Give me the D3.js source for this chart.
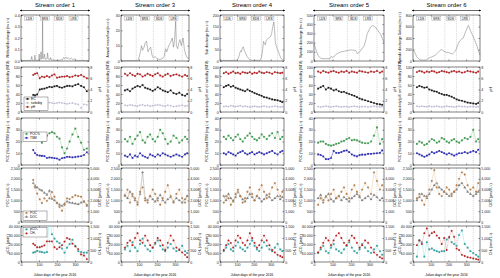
<!DOCTYPE html>
<html>
<head>
<meta charset="utf-8">
<script src="https://cdn.jsdelivr.net/npm/d3@7"></script>
<style>
  body { margin: 0; background: #fff; }
  text { font-family: "Liberation Sans", Arial, sans-serif; }
</style>
</head>
<body>
<svg id="fig" width="500" height="278"></svg>
<script>
// ---- data ----
const titles = ["Stream order 1", "Stream order 3", "Stream order 4", "Stream order 5", "Stream order 6"];
const seasons = ["LDS", "SRS", "SDS", "LRS"];
const seasonBreaks = [85, 180, 245, 340];
const seasonMid = [45, 132, 212, 292];
const dayTicks = [0, 100, 200, 300];

const qLabels = ["Wetland discharge (m³ s⁻¹)", "Annual mean flow (m³ s⁻¹)", "Sub discharge (m³ s⁻¹)",
                 "Nyando discharge (m³ s⁻¹)", "Nyando discharge Galana (m³ s⁻¹)"];
const qMax = [0.4, 30, 200, 500, 800];
const qTicks = [[0, 0.1, 0.2, 0.3, 0.4], [0, 10, 20, 30], [0, 50, 100, 150, 200],
                [0, 100, 200, 300, 400, 500], [0, 200, 400, 600, 800]];

// discharge series, [day, value]
const q1 = [[0,0.005],[55,0.005],[60,0.04],[63,0.005],[75,0.006],[77,0.05],[80,0.005],[98,0.006],[101,0.06],[104,0.01],
  [109,0.02],[111,0.08],[114,0.015],[118,0.02],[120,0.38],[122,0.03],[126,0.02],[131,0.06],[134,0.015],[145,0.02],
  [148,0.07],[151,0.02],[160,0.01],[164,0.03],[168,0.01],[200,0.005],[230,0.01],[236,0.03],[242,0.02],[248,0.035],
  [255,0.02],[262,0.03],[270,0.015],[280,0.025],[290,0.01],[300,0.02],[310,0.005],[378,0.005]];
const q2 = [[0,0.2],[95,0.3],[100,2],[108,6],[114,10],[120,7],[128,9],[135,12],[142,13],[150,6],[158,8],[165,9],
  [172,4],[180,2],[190,3],[200,1.5],[215,1],[230,1.5],[240,3],[248,8],[255,6],[265,10],[275,12],[285,15],[292,9],
  [298,14],[304,26],[308,10],[315,8],[322,12],[328,14],[335,10],[345,15],[352,8],[360,4],[370,2],[378,1.5]];
const q3 = [[0,3],[60,2],[96,3],[105,8],[112,20],[117,35],[122,45],[127,40],[132,55],[137,62],[142,50],[150,35],
  [160,20],[170,10],[177,5],[190,3],[237,3],[245,15],[252,50],[257,85],[263,75],[268,70],[273,90],[280,95],[288,100],
  [297,105],[305,120],[312,150],[318,170],[322,140],[327,80],[335,60],[345,40],[358,15],[368,5],[378,3]];
const q4 = [[0,190],[8,140],[14,100],[22,60],[36,30],[50,25],[80,25],[88,30],[93,50],[100,40],[108,45],[117,70],
  [126,80],[140,95],[150,100],[162,105],[171,110],[185,115],[198,120],[212,118],[225,115],[234,80],[245,95],[258,130],
  [270,160],[280,230],[288,300],[298,340],[306,370],[315,385],[322,380],[333,365],[345,330],[360,290],[370,240],[378,200]];
const q5 = [[0,200],[10,150],[20,80],[28,50],[38,25],[47,18],[60,15],[76,20],[88,45],[95,60],[105,70],[113,80],
  [125,100],[132,120],[142,150],[151,180],[161,200],[170,180],[180,160],[190,150],[198,150],[210,135],[222,120],
  [232,150],[240,180],[248,240],[255,300],[264,350],[274,380],[283,400],[292,470],[302,550],[312,620],[318,580],
  [325,520],[331,480],[340,420],[350,350],[362,250],[370,170],[378,100]];
const discharge = [q1, q2, q3, q4, q5];

// sampling days
const days1 = [68,78,90,104,116,130,144,158,172,186,200,214,228,242,256,270,286,302,318,334,350,366];
const daysN = [22,36,50,64,78,92,106,120,134,148,162,176,190,204,218,232,246,260,276,292,308,324,340,356,368];

// row 2: conductivity / turbidity (left), pH (right)
const cond = [
  [38,37,39,50,51,52,54,56,55,57,58,55,54,56,58,58,57,60,62,58,55,46],
  [48,50,46,52,55,58,56,60,54,52,50,47,50,55,52,48,46,44,48,42,40,43,38,36,40],
  [55,58,60,56,58,54,52,50,48,46,50,47,45,42,40,38,36,33,32,30,28,27,26,24,22],
  [52,55,58,50,54,52,48,50,46,44,45,42,40,38,36,33,30,28,26,24,22,20,18,17,16],
  [55,58,56,54,55,50,48,46,45,42,40,38,38,36,34,31,28,26,25,23,21,20,19,18,20]];
const ph = [
  [6.6,6.8,6.9,6.0,6.3,6.2,6.4,6.2,6.5,6.7,6.1,6.2,6.3,6.3,6.4,6.2,6.3,6.5,6.4,6.6,6.3,6.0],
  [6.8,6.5,6.9,6.6,6.4,6.8,6.7,6.3,6.5,6.8,6.6,6.4,6.7,6.9,6.5,6.3,6.6,6.8,6.4,6.6,6.7,6.5,6.3,6.6,6.4],
  [6.9,7.1,6.8,7.0,7.2,6.9,7.0,6.8,7.1,7.0,6.9,7.1,6.8,7.0,6.9,7.2,7.0,6.9,7.1,7.0,6.8,7.1,7.0,6.9,7.0],
  [7.2,7.0,7.3,7.1,7.0,7.2,7.3,7.1,7.0,7.2,7.1,7.3,7.0,7.2,7.1,7.0,7.3,7.2,7.1,7.0,7.2,7.1,7.3,7.0,7.2],
  [7.1,7.3,7.2,7.0,7.2,7.1,7.3,7.2,7.0,7.1,7.3,7.2,7.1,7.0,7.2,7.3,7.1,7.2,7.0,7.1,7.3,7.2,7.1,7.0,7.2]];
const turb = [
  [null,null,null,null,null,null,20,21,20,19,20,21,20,19,18,19,20,18,17,9,17,16],
  [15,14,16,15,14,13,15,16,14,15,13,14,15,16,15,14,13,15,14,12,13,14,15,13,14],
  [12,13,12,14,13,12,13,14,12,13,12,11,12,13,12,11,12,13,12,11,12,13,12,11,12],
  [12,11,12,13,12,11,12,13,12,11,12,12,11,12,13,12,11,12,12,11,12,13,12,11,12],
  [13,12,13,12,12,13,12,12,13,12,11,12,13,12,12,11,12,13,12,12,11,12,12,11,12]];

// row 3: POC (%) and TSM
const pocPct = [
  [23.5,24,24.5,25.5,19,21,25,27,28,27,24,22.5,15,10,14,20,26,31,24,19,13,14],
  [22,20,24,18,22,25,28,21,19,24,26,22,20,24,30,27,22,18,20,25,23,19,21,24,22],
  [24,22,25,23,21,24,26,22,20,23,25,27,24,22,21,23,26,24,22,25,27,23,28,22,24],
  [19,20,20,18,17,16.5,17,18,18.5,20,20.5,22,23,21,21.5,21,20,19,18.5,18.5,20,25,32,18,22],
  [18,20,19,17,18,20,22,21,19,20,23,22,20,19,21,22,20,19,21,23,22,24,30,20,22]];
const tsm = [
  [12.8,10,8.5,8,7.8,7.6,6,6.4,6.2,5.8,5.5,4.5,5.8,6.2,7,6.8,6.5,6.8,7.2,7.5,8.5,10.8],
  [8,7,9,6,8,7,10,8,7,6,9,8,7,9,8,10,9,8,7,8,9,8,7,9,10],
  [10,9,11,10,9,8,10,11,12,10,9,10,11,9,10,11,10,9,10,11,12,10,9,11,12],
  [9,8.5,7.3,5,5,6,12,10.3,10.3,11,12,12.4,11,9,8,7.3,8.5,8.8,8.8,9.5,9.5,9.8,10,10.3,12.4],
  [10,9,8,7,8,9,11,10,11,12,11,10,9,10,9,8,9,10,10,11,10,11,12,11,13]];

// row 4: POC (umol/L, left) and DOC (umol/L, right)
const poc = [
  [1950,1600,1316,1050,880,1096,980,1100,1390,1170,877,700,520,800,1096,1060,1150,1240,1200,1170,950,800],
  [1200,1500,900,1300,1100,800,1400,1600,1000,900,1200,1500,1300,1000,800,1100,1400,1700,1200,900,1300,1500,1100,900,1200],
  [900,1200,1100,800,1000,1300,1500,1200,900,1100,1400,1600,1300,1000,1200,1500,1700,1400,1100,1300,1600,1800,1500,1200,1400],
  [800,1100,900,1200,1000,1300,1500,1100,1200,1400,1600,1300,1100,1500,1700,1400,1200,1500,1800,1600,1300,2300,1900,1500,1700],
  [1100,1300,1000,800,1200,1500,1900,2400,1600,1300,1200,1400,1600,1500,1200,1400,1700,2000,2300,2200,1700,1500,1600,1400,1800]];
const doc = [
  [3600,3360,3200,3000,2920,2700,2530,2900,2150,2000,1760,1600,1500,1700,1900,1800,1760,1700,1640,1800,1900,1500],
  [2500,2200,2800,2400,2000,1800,2600,4600,2200,2000,2400,2100,1900,2200,2500,2000,1800,2100,2300,1900,2200,2000,1800,2100,2400],
  [2400,2000,2600,2200,1900,2300,2800,2400,2100,1900,2200,2600,2300,2000,2400,2200,1900,2100,2500,2300,2000,2200,2400,2100,2300],
  [2200,2500,2000,2300,2600,2100,1900,2200,2400,2000,2300,2100,1900,2200,2400,2600,2300,2000,2200,2400,2100,2500,2300,2000,2200],
  [2000,2300,2600,2400,2200,2600,3000,3400,3600,3200,3000,2800,2600,2400,2600,2800,3000,3400,3600,3200,2800,2600,2400,2600,2800]];

// row 5: pCO2 (uatm, left) and CH4 (nmol/L, right)
const pco2 = [
  [10400,11000,12400,11500,11000,10400,11000,52000,30800,26000,22800,21000,15000,10400,16000,20000,24800,18000,12000,11000,10400,10400],
  [14000,18000,12000,22000,16000,12000,20000,26000,18000,14000,12000,16000,20000,24000,18000,14000,12000,16000,20000,15000,12000,14000,18000,12000,10000],
  [12000,16000,20000,14000,12000,18000,22000,16000,14000,12000,16000,20000,24000,18000,14000,12000,16000,22000,18000,14000,12000,16000,20000,14000,12000],
  [10000,14000,18000,12000,10000,16000,20000,14000,12000,10000,14000,18000,22000,16000,12000,10000,14000,20000,16000,12000,10000,14000,18000,12000,8000],
  [6000,24000,22000,6000,22000,14000,15000,13000,12000,11000,12000,12000,25000,27000,22000,20000,18000,30000,35000,20000,16000,12000,10000,8000,6000]];
const ch4 = [
  [765,700,615,615,650,690,860,860,860,615,540,615,700,850,1000,950,765,650,540,315,270,120],
  [600,800,900,700,1000,1200,900,800,1100,900,700,600,800,1000,900,700,500,800,1100,900,600,500,400,300,200],
  [500,700,900,800,600,900,1100,1000,800,700,900,1200,1000,800,600,700,900,1100,900,700,500,400,300,250,200],
  [400,600,800,1000,900,700,900,1100,1200,1000,800,700,900,1100,1000,800,600,700,900,800,600,400,300,200,150],
  [700,900,750,1200,1400,1100,1200,1250,1100,1000,750,1000,500,1050,1300,1050,560,500,300,250,200,180,150,120,100]];

// ---- layout ----
const colX = [21, 121, 220, 314, 413];
const colW = [68, 68, 64, 70, 67];
const rowY = [[15, 61], [67, 112], [118, 165], [168, 222], [226, 262]];

const svg = d3.select("#fig");
const defs = svg.append("defs");
defs.append("marker").attr("id", "ah").attr("viewBox", "0 0 10 10")
  .attr("refX", 9).attr("refY", 5).attr("markerWidth", 4).attr("markerHeight", 4)
  .attr("orient", "auto-start-reverse")
  .append("path").attr("d", "M0,0L10,5L0,10z").attr("fill", "#000");

const fs = 3.6;

function drawAxis(g, x, y, yR, opts) {
  const [t, b] = y.range().slice().reverse();
  const l = x.range()[0], r = x.range()[1];
  // dashed season lines
  g.selectAll(".sb").data(seasonBreaks).enter().append("line")
    .attr("x1", d => x(d)).attr("x2", d => x(d)).attr("y1", t).attr("y2", b)
    .attr("stroke", "#aaa").attr("stroke-width", 0.4).attr("stroke-dasharray", "1.2,0.8");
  const xa = d3.axisBottom(x).tickValues(dayTicks).tickSizeInner(-1.6).tickSizeOuter(0)
    .tickPadding(1.2).tickFormat(opts.xlabels ? d3.format("d") : "");
  g.append("g").attr("transform", `translate(0,${b})`).call(xa);
  g.append("g").attr("transform", `translate(0,${t})`)
    .call(d3.axisTop(x).tickValues(dayTicks).tickSizeInner(-1.6).tickSizeOuter(0).tickFormat(""));
  g.append("g").attr("transform", `translate(${l},0)`)
    .call(d3.axisLeft(y).tickValues(opts.yTicks).tickSizeInner(-1.6).tickSizeOuter(0)
      .tickPadding(1.2).tickFormat(opts.yFmt || null));
  const ra = d3.axisRight(yR || y).tickSizeInner(-1.6).tickSizeOuter(0).tickPadding(1.2);
  if (yR) ra.tickValues(opts.yRTicks).tickFormat(opts.yRFmt || null);
  else ra.tickValues(opts.yTicks).tickFormat("");
  g.append("g").attr("transform", `translate(${r},0)`).call(ra);
  g.selectAll(".domain").remove();
  g.append("rect").attr("x", l).attr("y", t).attr("width", r - l).attr("height", b - t)
    .attr("fill", "none").attr("stroke", "#000").attr("stroke-width", 0.5);
  g.selectAll(".tick line").attr("stroke", "#000").attr("stroke-width", 0.4);
  g.selectAll(".tick text").attr("font-size", fs).attr("fill", "#222");
  g.append("text").attr("transform", `translate(${l - 12},${(t + b) / 2}) rotate(-90)`)
    .attr("text-anchor", "middle").attr("font-size", 3.4).text(opts.yLabel);
  if (opts.yRLabel) {
    g.append("text").attr("transform", `translate(${r + 12},${(t + b) / 2}) rotate(-90)`)
      .attr("text-anchor", "middle").attr("font-size", 3.4).text(opts.yRLabel);
  }
}

function series(g, x, y, ds, vs, lineCol, ptCol, shape, dash, size) {
  const pts = ds.map((d, i) => [d, vs[i]]).filter(p => p[1] != null);
  const line = d3.line().defined(p => p[1] != null).x(p => x(p[0])).y(p => y(p[1]));
  g.append("path").datum(ds.map((d, i) => [d, vs[i]])).attr("d", line)
    .attr("fill", "none").attr("stroke", lineCol).attr("stroke-width", 0.5)
    .attr("stroke-dasharray", dash || null);
  const sym = d3.symbol().type(shape).size(size || 2.6);
  g.selectAll(null).data(pts).enter().append("path")
    .attr("transform", p => `translate(${x(p[0])},${y(p[1])})`)
    .attr("d", sym).attr("fill", ptCol).attr("stroke", "#444").attr("stroke-width", 0.15);
}

function legend(g, x0, y0, items) {
  const w = 24, h = items.length * 4 + 1.5;
  g.append("rect").attr("x", x0).attr("y", y0).attr("width", w).attr("height", h)
    .attr("fill", "#fff").attr("stroke", "#000").attr("stroke-width", 0.3);
  items.forEach((it, i) => {
    const yy = y0 + 2.8 + i * 4;
    g.append("line").attr("x1", x0 + 1.5).attr("x2", x0 + 5.5).attr("y1", yy - 0.9).attr("y2", yy - 0.9)
      .attr("stroke", it.line).attr("stroke-width", 0.5).attr("stroke-dasharray", it.dash || null);
    g.append("path").attr("transform", `translate(${x0 + 3.5},${yy - 0.9})`)
      .attr("d", d3.symbol().type(it.shape).size(2.6)).attr("fill", it.fill)
      .attr("stroke", "#444").attr("stroke-width", 0.15);
    g.append("text").attr("x", x0 + 7).attr("y", yy).attr("font-size", 3.2).text(it.label);
  });
}

titles.forEach((title, c) => {
  const l = colX[c], r = colX[c] + colW[c];
  const g = svg.append("g");
  const x = d3.scaleLinear().domain([0, 378]).range([l, r]);
  const ds = c === 0 ? days1 : daysN;

  g.append("text").attr("x", (l + r) / 2).attr("y", 6.5).attr("text-anchor", "middle")
    .attr("font-size", 6).text(title);
  g.append("line").attr("x1", l - 1).attr("x2", r + 1).attr("y1", 10.5).attr("y2", 10.5)
    .attr("stroke", "#000").attr("stroke-width", 0.6)
    .attr("marker-start", "url(#ah)").attr("marker-end", "url(#ah)");

  // row 1 discharge
  const y1 = d3.scaleLinear().domain([0, qMax[c]]).range([rowY[0][1], rowY[0][0]]);
  drawAxis(g, x, y1, null, { yTicks: qTicks[c], yLabel: qLabels[c],
    yFmt: c === 0 ? d3.format(".1f") : d3.format("d") });
  g.append("path").datum(discharge[c])
    .attr("d", d3.line().x(p => x(p[0])).y(p => y1(Math.min(p[1], qMax[c]))))
    .attr("fill", "none").attr("stroke", "#666").attr("stroke-width", 0.45);
  seasons.forEach((s, i) => {
    const cx = x(seasonMid[i]);
    g.append("rect").attr("x", cx - 4.5).attr("y", rowY[0][0] + 1.5).attr("width", 9).attr("height", 4.2)
      .attr("fill", "#fff").attr("stroke", "#777").attr("stroke-width", 0.3);
    g.append("text").attr("x", cx).attr("y", rowY[0][0] + 4.8).attr("text-anchor", "middle")
      .attr("font-size", 3.2).text(s);
  });

  // row 2
  const y2 = d3.scaleLinear().domain([0, 100]).range([rowY[1][1], rowY[1][0]]);
  const y2r = d3.scaleLinear().domain([0, 8]).range([rowY[1][1], rowY[1][0]]);
  drawAxis(g, x, y2, y2r, { yTicks: [0, 20, 40, 60, 80, 100], yRTicks: [0, 2, 4, 6, 8],
    yLabel: "conductivity (µS cm⁻¹) / turbidity (NTU)", yRLabel: "pH" });
  series(g, x, y2, ds, turb[c], "#c4b0f0", "#e4dafa", d3.symbolSquare, "1,0.6", 1.2);
  series(g, x, y2, ds, cond[c], "#222", "#111", d3.symbolSquare);
  series(g, x, y2r, ds, ph[c], "#b22", "#c8191e", d3.symbolCircle);
  if (c === 0) legend(g, l + 3, rowY[1][1] - 15, [
    { label: "EC", shape: d3.symbolSquare, fill: "#111", line: "#222" },
    { label: "turbidity", shape: d3.symbolSquare, fill: "#e4dafa", line: "#c4b0f0", dash: "1,0.6" },
    { label: "pH", shape: d3.symbolCircle, fill: "#c8191e", line: "#b22" }]);

  // row 3
  const y3 = d3.scaleLinear().domain([0, 40]).range([rowY[2][1], rowY[2][0]]);
  drawAxis(g, x, y3, null, { yTicks: [0, 10, 20, 30, 40], yLabel: "POC (%) and TSM (mg L⁻¹)" });
  series(g, x, y3, ds, pocPct[c], "#8fd88f", "#2fa84a", d3.symbolSquare);
  series(g, x, y3, ds, tsm[c], "#3a3adf", "#2424c8", d3.symbolSquare);
  if (c === 0) legend(g, l + 2, rowY[2][0] + 14, [
    { label: "POC%", shape: d3.symbolSquare, fill: "#2fa84a", line: "#8fd88f" },
    { label: "TSM", shape: d3.symbolSquare, fill: "#2424c8", line: "#3a3adf" }]);

  // row 4
  const y4 = d3.scaleLinear().domain([0, 2500]).range([rowY[3][1], rowY[3][0]]);
  const y4r = d3.scaleLinear().domain([0, 5000]).range([rowY[3][1], rowY[3][0]]);
  drawAxis(g, x, y4, y4r, { yTicks: [0, 500, 1000, 1500, 2000, 2500], yRTicks: [0, 1000, 2000, 3000, 4000, 5000],
    yLabel: "POC (µmol L⁻¹)", yRLabel: "DOC (µmol L⁻¹)" });
  series(g, x, y4r, ds, doc[c], "#9a9a9a", "#888", d3.symbolTriangle);
  series(g, x, y4, ds, poc[c], "#f0c8a0", "#c8874a", d3.symbolCircle);
  if (c === 0) legend(g, l + 2, rowY[3][1] - 11, [
    { label: "POC", shape: d3.symbolCircle, fill: "#c8874a", line: "#f0c8a0" },
    { label: "DOC", shape: d3.symbolTriangle, fill: "#888", line: "#9a9a9a" }]);

  // row 5
  const y5 = d3.scaleLinear().domain([0, 40000]).range([rowY[4][1], rowY[4][0]]);
  const y5r = d3.scaleLinear().domain([0, 1500]).range([rowY[4][1], rowY[4][0]]);
  drawAxis(g, x, y5, y5r, { yTicks: [0, 10000, 20000, 30000, 40000], yRTicks: [0, 500, 1000, 1500],
    yLabel: "pCO₂ (µatm)", yRLabel: "CH₄ (nmol L⁻¹)", xlabels: true,
    yFmt: d => d3.format(",")(d).replace(",", " ") });
  const clipId = "clip5_" + c;
  defs.append("clipPath").attr("id", clipId).append("rect")
    .attr("x", l).attr("y", rowY[4][0]).attr("width", r - l).attr("height", rowY[4][1] - rowY[4][0]);
  const g5 = g.append("g").attr("clip-path", `url(#${clipId})`);
  series(g5, x, y5, ds, pco2[c], "#8ee8e8", "#25b5b5", d3.symbolSquare);
  series(g5, x, y5r, ds, ch4[c], "#f3a0a0", "#d01818", d3.symbolCircle);
  if (c === 0) legend(g, l + 2, rowY[4][0] + 1.5, [
    { label: "pCO₂", shape: d3.symbolSquare, fill: "#25b5b5", line: "#8ee8e8" },
    { label: "CH₄", shape: d3.symbolCircle, fill: "#d01818", line: "#f3a0a0" }]);

  g.append("text").attr("x", (l + r) / 2).attr("y", 275.5).attr("text-anchor", "middle")
    .attr("font-size", 3.4).text("Julian days of the year 2016");
});
</script>
</body>
</html>
